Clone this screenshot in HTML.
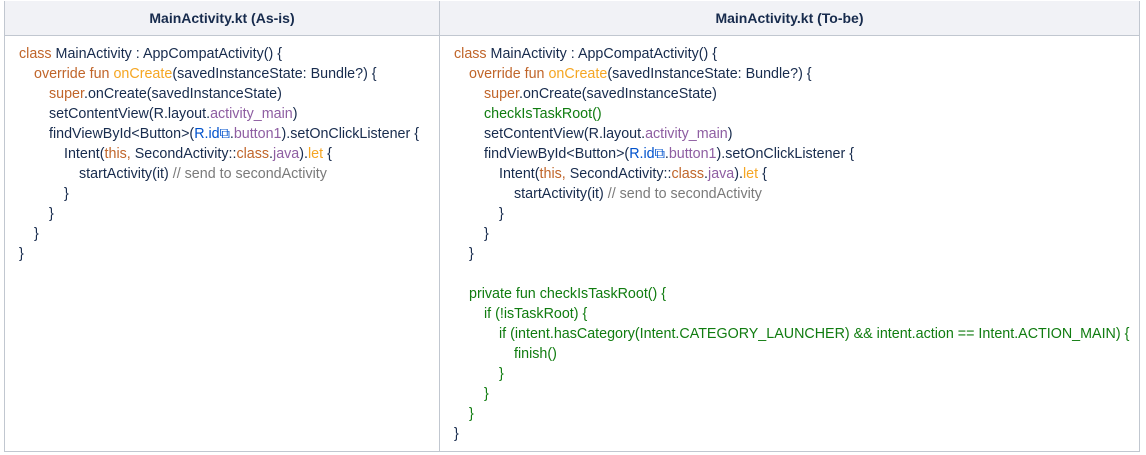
<!DOCTYPE html>
<html><head><meta charset="utf-8"><style>
*{margin:0;padding:0;box-sizing:border-box}
body{width:1146px;height:455px;background:#fff;font-family:"Liberation Sans",sans-serif;position:relative;overflow:hidden}
.box{position:absolute;left:4px;top:1px;width:1136px;height:451px;border:1px solid #c1c7d0}
.hd{position:absolute;top:1px;height:35px;background:#f1f2f6;border-bottom:1px solid #c1c7d0;font-weight:bold;font-size:14px;color:#172b4d;text-align:center;line-height:35px}
.div{position:absolute;left:439px;top:1px;width:1px;height:451px;background:#c1c7d0}
.l{position:absolute;font-size:14.3px;line-height:20px;color:#172b4d;white-space:pre}
.k{color:#c0652a}.f{color:#f5a623}.p{color:#8e5ea2}.b{color:#0052cc}.c{color:#7a7a7a}.g{color:#107c10}
</style></head><body>
<div class="box"></div>
<div class="hd" style="left:5px;width:434px">MainActivity.kt (As-is)</div>
<div class="hd" style="left:440px;width:699px">MainActivity.kt (To-be)</div>
<div class="div"></div>

<div class="l" style="left:19px;top:44px"><span class="k">class</span> MainActivity : AppCompatActivity() {</div>
<div class="l" style="left:34px;top:64px"><span class="k">override fun</span> <span class="f">onCreate</span>(savedInstanceState: Bundle?) {</div>
<div class="l" style="left:49px;top:84px"><span class="k">super</span>.onCreate(savedInstanceState)</div>
<div class="l" style="left:49px;top:104px">setContentView(R.layout.<span class="p">activity_main</span>)</div>
<div class="l" style="left:49px;top:124px">findViewById&lt;Button&gt;(<span class="b">R.id⧉</span>.<span class="p">button1</span>).setOnClickListener {</div>
<div class="l" style="left:64px;top:144px">Intent(<span class="k">this,</span> SecondActivity::<span class="k">class</span>.<span class="p">java</span>).<span class="f">let</span> {</div>
<div class="l" style="left:79px;top:164px">startActivity(it) <span class="c">// send to secondActivity</span></div>
<div class="l" style="left:64px;top:184px">}</div>
<div class="l" style="left:49px;top:204px">}</div>
<div class="l" style="left:34px;top:224px">}</div>
<div class="l" style="left:19px;top:244px">}</div>

<div class="l" style="left:454px;top:44px"><span class="k">class</span> MainActivity : AppCompatActivity() {</div>
<div class="l" style="left:469px;top:64px"><span class="k">override fun</span> <span class="f">onCreate</span>(savedInstanceState: Bundle?) {</div>
<div class="l" style="left:484px;top:84px"><span class="k">super</span>.onCreate(savedInstanceState)</div>
<div class="l g" style="left:484px;top:104px">checkIsTaskRoot()</div>
<div class="l" style="left:484px;top:124px">setContentView(R.layout.<span class="p">activity_main</span>)</div>
<div class="l" style="left:484px;top:144px">findViewById&lt;Button&gt;(<span class="b">R.id⧉</span>.<span class="p">button1</span>).setOnClickListener {</div>
<div class="l" style="left:499px;top:164px">Intent(<span class="k">this,</span> SecondActivity::<span class="k">class</span>.<span class="p">java</span>).<span class="f">let</span> {</div>
<div class="l" style="left:514px;top:184px">startActivity(it) <span class="c">// send to secondActivity</span></div>
<div class="l" style="left:499px;top:204px">}</div>
<div class="l" style="left:484px;top:224px">}</div>
<div class="l" style="left:469px;top:244px">}</div>
<div class="l g" style="left:469px;top:284px">private fun checkIsTaskRoot() {</div>
<div class="l g" style="left:484px;top:304px">if (!isTaskRoot) {</div>
<div class="l g" style="left:499px;top:324px">if (intent.hasCategory(Intent.CATEGORY_LAUNCHER) &amp;&amp; intent.action == Intent.ACTION_MAIN) {</div>
<div class="l g" style="left:514px;top:344px">finish()</div>
<div class="l g" style="left:499px;top:364px">}</div>
<div class="l g" style="left:484px;top:384px">}</div>
<div class="l g" style="left:469px;top:404px">}</div>
<div class="l" style="left:454px;top:424px">}</div>
</body></html>
